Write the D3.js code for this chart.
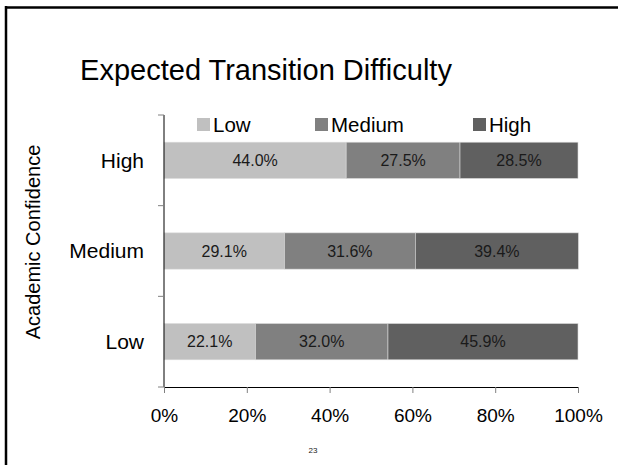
<!DOCTYPE html>
<html>
<head>
<meta charset="utf-8">
<script src="https://cdn.jsdelivr.net/npm/d3@7"></script>
<style>
  html, body { margin: 0; padding: 0; background: #fff; }
  svg { display: block; font-family: "Liberation Sans", Arial, sans-serif; }
</style>
</head>
<body>
<svg id="chart" width="618" height="465"></svg>
<script>
// ---- data ----
const title = "Expected Transition Difficulty";
const yAxisTitle = "Academic Confidence";
const categories = ["High", "Medium", "Low"];           // top to bottom
const seriesNames = ["Low", "Medium", "High"];
const lowValues = [44.0, 29.1, 22.1];
const mediumValues = [27.5, 31.6, 32.0];
const highValues = [28.5, 39.4, 45.9];
const xTickValues = [0, 20, 40, 60, 80, 100];
const pageNumber = "23";

const seriesColors = ["#c0c0c0", "#808080", "#606060"];

const svg = d3.select("#chart");

// slide frame (left & top border)
svg.append("line").attr("x1", 6).attr("x2", 6).attr("y1", 6).attr("y2", 465)
  .attr("stroke", "#000").attr("stroke-width", 2.5);
svg.append("line").attr("x1", 5).attr("x2", 618).attr("y1", 7.5).attr("y2", 7.5)
  .attr("stroke", "#000").attr("stroke-width", 2.5);

const x = d3.scaleLinear().domain([0, 100]).range([164, 578]);
const y = d3.scaleBand().domain(categories).range([115, 387]).paddingInner(0.6).paddingOuter(0.3);

// stacked data
const rows = categories.map((c, i) => ({ cat: c, Low: lowValues[i], Medium: mediumValues[i], High: highValues[i] }));
const stack = d3.stack().keys(seriesNames)(rows);

const g = svg.append("g");
stack.forEach((layer, li) => {
  const lg = g.append("g").attr("fill", seriesColors[li]);
  lg.selectAll("rect").data(layer).join("rect")
    .attr("x", d => x(d[0]))
    .attr("y", d => y(d.data.cat))
    .attr("width", d => x(d[1]) - x(d[0]))
    .attr("height", y.bandwidth())
    .attr("stroke", "#d9d9d9").attr("stroke-width", 0.6);
  lg.selectAll("text").data(layer).join("text")
    .attr("x", d => (x(d[0]) + x(d[1])) / 2)
    .attr("y", d => y(d.data.cat) + y.bandwidth() / 2)
    .attr("dy", "0.35em")
    .attr("text-anchor", "middle")
    .attr("fill", "#1a1a1a")
    .attr("font-size", 16)
    .text(d => (d[1] - d[0]).toFixed(1) + "%");
});

// x axis
const xAxis = svg.append("g").attr("transform", "translate(0,387)")
  .call(d3.axisBottom(x).tickValues(xTickValues).tickSize(6).tickSizeOuter(0).tickFormat(d => d + "%"));
xAxis.select(".domain").attr("stroke", "#000");
xAxis.selectAll(".tick line").attr("stroke", "#808080");
xAxis.selectAll(".tick text").attr("font-size", 19).attr("fill", "#000")
  .attr("font-family", "Liberation Sans, Arial, sans-serif").attr("y", 35).attr("dy", "0");

// y axis line and boundary ticks
const yAxis = svg.append("g").attr("transform", "translate(164,0)")
  .call(d3.axisLeft(y).tickSize(0).tickFormat(""));
yAxis.select(".domain").attr("stroke", "#000").attr("d", "M0,115V387");
const bounds = d3.range(categories.length + 1).map(i => 115 + i * (272 / categories.length));
svg.append("g").selectAll("line").data(bounds).join("line")
  .attr("x1", 158).attr("x2", 164).attr("y1", d => d).attr("y2", d => d)
  .attr("stroke", "#808080");

// category labels
svg.append("g").selectAll("text").data(categories).join("text")
  .attr("x", 144)
  .attr("y", d => y(d) + y.bandwidth() / 2)
  .attr("dy", "0.35em")
  .attr("text-anchor", "end")
  .attr("font-size", 21)
  .attr("fill", "#000")
  .text(d => d);

// y axis title
svg.append("text")
  .attr("transform", "translate(40,242) rotate(-90)")
  .attr("text-anchor", "middle")
  .attr("font-size", 20)
  .attr("fill", "#000")
  .text(yAxisTitle);

// title
svg.append("text")
  .attr("x", 266).attr("y", 80)
  .attr("text-anchor", "middle")
  .attr("font-size", 29)
  .attr("fill", "#000")
  .text(title);

// legend
const legendX = [197, 315, 473];
const leg = svg.append("g").selectAll("g").data(seriesNames).join("g")
  .attr("transform", (d, i) => `translate(${legendX[i]},118)`);
leg.append("rect").attr("width", 13).attr("height", 13).attr("fill", (d, i) => seriesColors[i]);
leg.append("text").attr("x", 16).attr("y", 13.5).attr("font-size", 20.5).attr("fill", "#000").text(d => d);

// page number
svg.append("text").attr("x", 313).attr("y", 453).attr("text-anchor", "middle")
  .attr("font-size", 8).attr("fill", "#202020").text(pageNumber);
</script>
</body>
</html>
